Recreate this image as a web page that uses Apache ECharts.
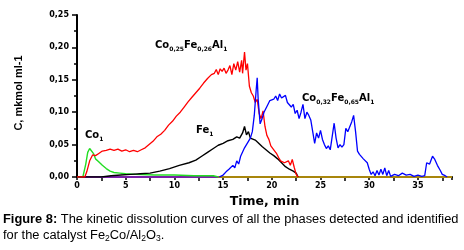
<!DOCTYPE html>
<html><head><meta charset="utf-8">
<script src="https://cdn.jsdelivr.net/npm/echarts@6/dist/echarts.min.js"></script>
<style>html,body{margin:0;padding:0;background:#fff}#c{width:464px;height:250px}</style>
</head><body><div id="c"></div>
<script>
var xTicks = [0, 5, 10, 15, 20, 25, 30, 35];
var yTicks = [0, 0.05, 0.10, 0.15, 0.20, 0.25];

var redT = [0,0.8,1.0,1.3,1.6,1.9,2.2,2.6,3.0,3.4,3.8,4.2,4.6,5.0,5.4,5.8,6.2,6.6,7.0,7.4,7.8,8.2,8.6,9.0,9.4,9.8,10.2,10.6,11.0,11.4,11.8,12.2,12.6,13.0,13.4,13.8,14.1,14.3,14.5,14.7,14.9,15.1,15.3,15.5,15.7,15.9,16.1,16.3,16.5,16.7,16.9,17.0,17.2,17.35,17.5,17.7,17.9,18.1,18.3,18.5,18.7,18.9,19.1,19.3,19.5,19.7,19.9,20.1,20.3,20.5,20.7,20.9,21.1,21.3,21.5,21.7,21.9,22.1,22.3,22.5,22.7];
var redC = [0,0,0.008,0.025,0.034,0.033,0.036,0.040,0.041,0.043,0.041,0.043,0.040,0.042,0.039,0.041,0.039,0.042,0.045,0.050,0.055,0.062,0.066,0.072,0.080,0.086,0.094,0.100,0.108,0.116,0.123,0.130,0.137,0.145,0.152,0.158,0.160,0.166,0.158,0.167,0.163,0.168,0.160,0.165,0.172,0.158,0.175,0.165,0.178,0.162,0.180,0.160,0.193,0.165,0.175,0.140,0.130,0.125,0.115,0.120,0.098,0.090,0.102,0.078,0.064,0.058,0.048,0.045,0.040,0.036,0.030,0.025,0.028,0.022,0.020,0.025,0.018,0.027,0.015,0.004,0];

var blackT = [0,2.5,3.5,4.5,5.5,6.5,7.5,8.5,9.5,10.5,11.5,12.2,12.8,13.4,14.0,14.5,15.0,15.5,16.0,16.4,16.7,17.0,17.2,17.4,17.6,17.8,18.0,18.3,18.6,19.0,19.4,19.8,20.2,20.6,21.0,21.4,21.8,22.2,22.5,22.7];
var blackC = [0,0,0.002,0.003,0.004,0.005,0.006,0.009,0.013,0.018,0.022,0.026,0.032,0.038,0.044,0.049,0.052,0.056,0.058,0.062,0.060,0.068,0.078,0.065,0.070,0.060,0.062,0.057,0.053,0.047,0.042,0.037,0.033,0.028,0.022,0.016,0.012,0.009,0.006,0];

var greenT = [0,0.6,0.9,1.1,1.3,1.5,1.7,1.9,2.2,2.6,3.0,3.4,3.8,4.4,5,6,8,10,12,14,14.5];
var greenC = [0,0,0.020,0.038,0.044,0.043,0.036,0.028,0.024,0.018,0.013,0.009,0.007,0.006,0.005,0.004,0.003,0.003,0.002,0.002,0];

var blueT = [14.6,15.0,15.3,15.6,15.8,16.0,16.2,16.4,16.6,16.8,17.0,17.2,17.4,17.6,17.8,18.0,18.2,18.4,18.5,18.6,18.8,19.0,19.2,19.4,19.6,19.8,20.0,20.2,20.4,20.6,20.8,21.0,21.2,21.4,21.6,21.8,22.0,22.2,22.4,22.6,22.8,23.0,23.2,23.4,23.6,23.8,24.0,24.2,24.4,24.6,24.8,25.0,25.2,25.4,25.6,25.8,26.0,26.2,26.4,26.6,26.8,27.0,27.2,27.4,27.6,27.8,28.0,28.2,28.4,28.6,28.8,29.0,29.4,29.8,30.0,30.2,30.4,30.6,30.8,31.0,31.2,31.4,31.6,31.8,32.0,32.2,32.6,33.0,33.4,33.8,34.2,34.6,35.0,35.4,35.7,35.9,36.2,36.5,36.7,37.0,37.3,37.5,37.8,38.0];
var blueC = [0,0.003,0.008,0.012,0.009,0.018,0.014,0.025,0.020,0.032,0.035,0.045,0.042,0.055,0.060,0.070,0.095,0.135,0.153,0.120,0.082,0.090,0.100,0.098,0.112,0.118,0.115,0.120,0.125,0.118,0.128,0.122,0.120,0.126,0.115,0.118,0.108,0.112,0.098,0.103,0.090,0.100,0.112,0.090,0.100,0.095,0.088,0.070,0.052,0.068,0.060,0.072,0.058,0.050,0.044,0.048,0.042,0.045,0.083,0.060,0.045,0.050,0.046,0.050,0.075,0.070,0.073,0.085,0.095,0.070,0.040,0.035,0.028,0.022,0.012,0.004,0.008,0.002,0.010,0.003,0.012,0.004,0.014,0.002,0.010,0.001,0.004,0.002,0.006,0.003,0.004,0.001,0.003,0.001,0.002,0.022,0.020,0.032,0.028,0.018,0.010,0.004,0.002,0];

var purpleT = [0, 15];
var purpleC = [0, 0];
var oliveT = [14.5, 38.5];
var oliveC = [0, 0];

function pairs(t, c) { return t.map(function (v, i) { return [v, c[i]]; }); }

var chart = echarts.init(document.getElementById('c'));
var lbl = {fontFamily: 'DejaVu Sans', fontWeight: 'bold', fontSize: 10, color: '#000', lineHeight: 14};
var sub = {fontFamily: 'DejaVu Sans', fontWeight: 'bold', fontSize: 6, color: '#000', lineHeight: 6, verticalAlign: 'bottom'};
var richLbl = {m: lbl, s: sub};

function ser(name, t, c, color, w, z) {
  return {name: name, type: 'line', data: pairs(t, c), showSymbol: false, symbol: 'none',
    lineStyle: {color: color, width: w}, itemStyle: {color: color}, z: z, animation: false};
}

chart.setOption({
  animation: false,
  grid: {left: 77, top: 15, width: 375, height: 162, containLabel: false},
  xAxis: {
    type: 'value', min: 0, max: 38.5, interval: 5,
    axisLine: {lineStyle: {color: '#000', width: 2}},
    axisTick: {show: true, length: 3, lineStyle: {color: '#000', width: 1.5}},
    minorTick: {show: true, splitNumber: 2, length: 4, lineStyle: {color: '#000', width: 1.5}},
    splitLine: {show: false},
    axisLabel: {fontFamily: 'DejaVu Sans', fontWeight: 'bold', fontSize: 8, color: '#000', margin: 5,
      formatter: function (v) { return xTicks.indexOf(v) >= 0 ? String(v) : ''; }, showMaxLabel: false},
    name: 'Time, min', nameLocation: 'middle', nameGap: 18,
    nameTextStyle: {fontFamily: 'DejaVu Sans', fontWeight: 'bold', fontSize: 12.5, color: '#000'}
  },
  yAxis: {
    type: 'value', min: 0, max: 0.25, interval: 0.05,
    axisLine: {show: true, lineStyle: {color: '#000', width: 2}},
    axisTick: {show: true, length: 5, lineStyle: {color: '#000', width: 1.5}},
    minorTick: {show: true, splitNumber: 2, length: 3, lineStyle: {color: '#000', width: 1.5}},
    splitLine: {show: false},
    axisLabel: {fontFamily: 'DejaVu Sans', fontWeight: 'bold', fontSize: 8, color: '#000', margin: 8,
      formatter: function (v) { return v.toFixed(2).replace('.', ','); }},
    name: 'C, mkmol ml-1', nameLocation: 'middle', nameGap: 53, nameRotate: 90,
    nameTextStyle: {fontFamily: 'Liberation Sans', fontWeight: 'bold', fontSize: 11, color: '#000', padding: [0, 0, 0, 6]}
  },
  series: [
    ser('purple', purpleT, purpleC, '#7a1fa8', 2, 1),
    ser('olive', oliveT, oliveC, '#a8860c', 2, 1),
    ser('Co1', greenT, greenC, '#22dd22', 1.4, 3),
    ser('Fe1', blackT, blackC, '#000000', 1.4, 4),
    ser('Co0.25', redT, redC, '#ff0000', 1.3, 5),
    ser('Co0.32', blueT, blueC, '#0000ff', 1.3, 6)
  ],
  graphic: [
    {type: 'text', left: 85, top: 130, style: {rich: richLbl, text: '{m|Co}{s|1}'}},
    {type: 'text', left: 196, top: 125, style: {rich: richLbl, text: '{m|Fe}{s|1}'}},
    {type: 'text', left: 155, top: 40, style: {rich: richLbl, text: '{m|Co}{s|0,25}{m|Fe}{s|0,26}{m|Al}{s|1}'}},
    {type: 'text', left: 302, top: 93, style: {rich: richLbl, text: '{m|Co}{s|0,32}{m|Fe}{s|0,65}{m|Al}{s|1}'}},
    {type: 'text', left: 3, top: 213, style: {
      rich: {
        b: {fontFamily: 'Liberation Sans', fontWeight: 'bold', fontSize: 12.85, color: '#000', lineHeight: 16},
        n: {fontFamily: 'Liberation Sans', fontSize: 12.85, color: '#000', lineHeight: 16},
        s: {fontFamily: 'Liberation Sans', fontSize: 8.5, color: '#000', lineHeight: 9, verticalAlign: 'bottom'}
      },
      text: '{b|Figure 8:}{n| The kinetic dissolution curves of all the phases detected and identified}\n{n|for the catalyst Fe}{s|2}{n|Co/Al}{s|2}{n|O}{s|3}{n|.}'
    }}
  ]
});
</script></body></html>
